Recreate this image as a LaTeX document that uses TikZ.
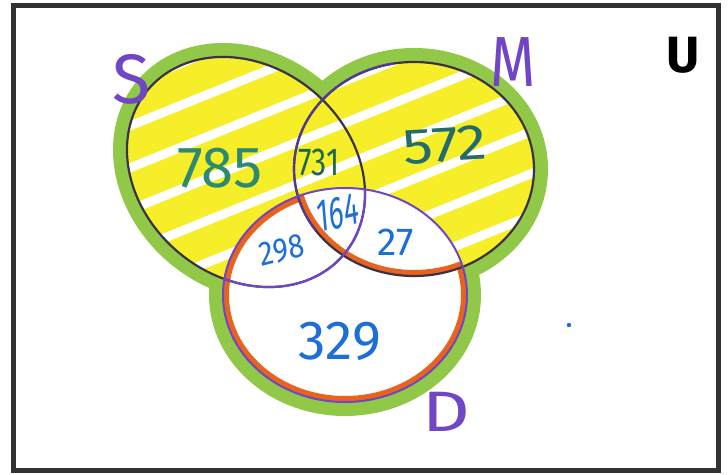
\documentclass[tikz,border=0pt]{standalone}
\usepackage{fontspec}
\setmainfont{Fira Sans}
\definecolor{grn}{RGB}{146,200,72}
\definecolor{ylw}{RGB}{246,238,40}
\definecolor{org}{RGB}{232,100,30}
\definecolor{prp}{RGB}{112,70,196}
\definecolor{dk}{RGB}{58,50,72}
\definecolor{dkp}{RGB}{80,58,150}
\definecolor{tealA}{RGB}{44,138,112}
\definecolor{tealB}{RGB}{30,105,80}
\definecolor{tealC}{RGB}{36,108,108}
\definecolor{blu}{RGB}{28,110,216}
\definecolor{frm}{RGB}{50,50,50}
\newcommand\Sell[2]{plot[domain=0:360,samples=145,variable=\t]({246+#1*cos(\t)*0.766+#2*sin(\t)*0.6428},{302-#1*cos(\t)*0.6428+#2*sin(\t)*0.766}) -- cycle}
\tikzset{
  num/.style={inner sep=0pt, font=#1},
  setlabel/.style={inner sep=0pt, text=prp, transform shape},
  outl/.style={draw=dk, line width=2.2pt},
}
\begin{document}
\begin{tikzpicture}[x=1pt,y=1pt]
\fill[white] (0,0) rectangle (728,474);
\useasboundingbox (0,0) rectangle (728,474);
% green outer highlight
\draw[grn, line width=14pt] \Sell{135}{112};
\draw[grn, line width=14pt] (414,305) ellipse [x radius=127, y radius=114];
\draw[grn, line width=14pt] (345,179) ellipse [x radius=129, y radius=114];
% white interiors
\fill[white] \Sell{128}{105};
\fill[white] (414,305) ellipse [x radius=120, y radius=107];
\fill[white] (345,179) ellipse [x radius=122, y radius=107];
% yellow highlighter in S and M outside D
\begin{scope}
  \clip \Sell{128}{105} (414,305) ellipse [x radius=120, y radius=107];
  \fill[ylw] (100,150) rectangle (560,420);
  \fill[white] (345,179) ellipse [x radius=122, y radius=107];
  \foreach \k in {-12,...,12}
    \draw[white, line width=9pt] (100,{210+42*\k}) -- (560,{210+42*\k+186});
\end{scope}
% orange outline of D minus M
\begin{scope}[even odd rule]
  \clip (0,0) rectangle (728,474) (414,305) ellipse [x radius=120, y radius=107];
  \draw[org, line width=6pt] (345,179) ellipse [x radius=119, y radius=104];
\end{scope}
\begin{scope}
  \clip (345,179) ellipse [x radius=122, y radius=107];
  \draw[org, line width=6pt] (414,305) ellipse [x radius=117, y radius=104];
\end{scope}
% outlines
\draw[outl] \Sell{128}{105};
\draw[outl] (414,305) ellipse [x radius=120, y radius=107];
\draw[dkp, line width=2.2pt] (414,305) ++(100:120 and 107) arc [start angle=100, end angle=215, x radius=120, y radius=107];
\draw[prp, line width=2pt] (345,179) ellipse [x radius=122, y radius=107];
\begin{scope}
  \clip (345,179) ellipse [x radius=122, y radius=107];
  \draw[prp, line width=2.2pt] \Sell{128}{105};
\end{scope}
% numbers
\node[num={\fontsize{58}{60}\selectfont}, text=tealA] (n785) at (220,306) {785};
\node[num={\fontsize{39}{40}\selectfont}, text=tealB, xscale=0.78, transform shape] (n731) at (319,312) {731};
\node[num={\fontsize{50}{52}\selectfont}, text=tealC, xscale=1.2, rotate=4, transform shape] (n572) at (445,329) {572};
\node[num={\fontsize{46}{48}\selectfont}, text=blu, xscale=0.6, rotate=8, transform shape] (n164) at (338,261) {164};
\node[num={\fontsize{34}{36}\selectfont}, text=blu, xscale=0.85, rotate=12, transform shape] (n298) at (282,224) {298};
\node[num={\fontsize{39}{40}\selectfont}, text=blu] (n27) at (396,232) {27};
\node[num={\fontsize{55}{57}\selectfont}, text=blu] (n329) at (340,133) {329};
% set labels
\node[setlabel, font=\fontsize{70}{72}\selectfont] (lS) at (132,395) {S};
\node[setlabel, font=\fontsize{71}{72}\selectfont, xscale=0.82] (lM) at (513,412) {M};
\node[setlabel, font=\fontsize{57}{58}\selectfont, xscale=1.3] (lD) at (446,62) {D};
\node[inner sep=0pt, font=\fontsize{51}{52}\selectfont\bfseries, text=black] (lU) at (683,419) {U};
\fill[blu] (569,149) circle [radius=2.2];
% frame
\draw[frm, line width=5pt] (13.5,4) rectangle (718,468.5);
\end{tikzpicture}
\end{document}
